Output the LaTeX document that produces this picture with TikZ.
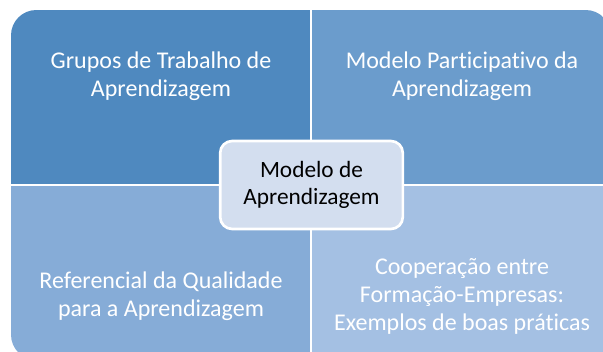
\documentclass[tikz,border=0pt]{standalone}
\usepackage{fontspec}
\setmainfont{Carlito}[Ligatures=NoCommon]
\definecolor{qa}{RGB}{79,137,191}
\definecolor{qb}{RGB}{107,156,204}
\definecolor{qc}{RGB}{134,172,215}
\definecolor{qd}{RGB}{164,192,227}
\definecolor{qm}{RGB}{211,222,239}
\tikzset{
    quadtext/.style={align=center, text=white, font=\fontsize{18}{21}\selectfont},
    centerbox/.style={draw=white, line width=2pt, fill=qm, rounded corners=9pt, minimum width=137pt, minimum height=66pt, align=center, font=\fontsize{17.5}{20}\selectfont}
}
\begin{document}
\begin{tikzpicture}[x=0.75pt, y=-0.75pt]
            \useasboundingbox (0,0) rectangle (603,352);
            \begin{scope}
                \clip[rounded corners=19pt] (11,10) rectangle (611,360);
                \fill[qa] (11,10) rectangle (311,185); \fill[qb] (311,10) rectangle (611,185);
                \fill[qc] (11,185) rectangle (311,360); \fill[qd] (311,185) rectangle (611,360);
            \end{scope}
            \coordinate (T) at (311,10);
            \coordinate (B) at (311,360);
            \coordinate (L) at (11,185);
            \coordinate (R) at (611,185);
            \draw[white, line width=2.2pt] (T) to (B); \draw[white, line width=2.2pt] (L) to (R);

            \node[quadtext] (Q1) at (161,76) {Grupos de Trabalho de\\Aprendizagem};
            \node[quadtext] (Q2) at (462,76) {Modelo Participativo da\\Aprendizagem};
            \node[quadtext] (Q3) at (161,296) {Referencial da Qualidade\\para a Aprendizagem};
            \node[quadtext] (Q4) at (462,296) {Cooperação entre\\Formação-Empresas:\\Exemplos de boas práticas};
            \node[centerbox] (M) at (311.5,185) {Modelo de\\Aprendizagem};
        \end{tikzpicture}
\end{document}
